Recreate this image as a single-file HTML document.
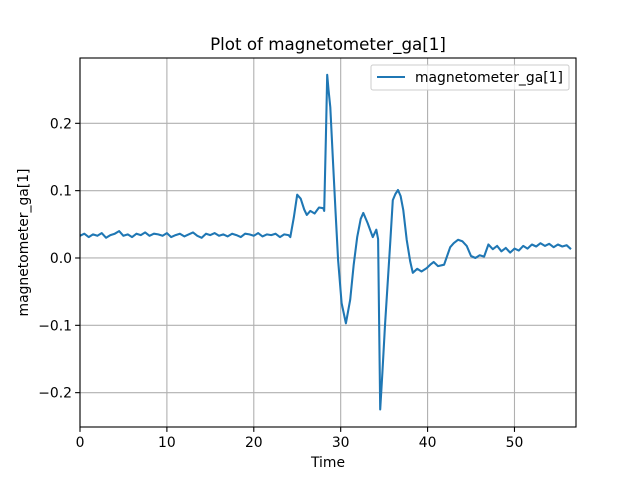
<!DOCTYPE html>
<html><head><meta charset="utf-8"><style>
body{margin:0;background:#fff;}
svg{display:block;font-family:"DejaVu Sans","Liberation Sans",sans-serif;}
</style></head><body>
<svg id="chart" width="640" height="480" viewBox="0 0 640 480">
<rect width="640" height="480" fill="#fff"/>
<g id="grid"></g>
<g id="ticks"></g>
<clipPath id="clip"><rect x="80" y="58" width="496" height="369"/></clipPath>
<path id="line" fill="none" stroke="#1f77b4" stroke-width="2.08" stroke-linejoin="round" clip-path="url(#clip)"/>
<rect x="80" y="58" width="496" height="369" fill="none" stroke="#000" stroke-width="1.1"/>
<text x="328" y="50" text-anchor="middle" font-size="16.7">Plot of magnetometer_ga[1]</text>
<text x="328" y="467" text-anchor="middle" font-size="13.9">Time</text>
<text transform="translate(28,242.5) rotate(-90)" text-anchor="middle" font-size="13.9">magnetometer_ga[1]</text>
<g>
<rect x="371" y="65" width="198" height="25" rx="2" fill="#fff" fill-opacity="0.8" stroke="#ccc" stroke-width="1"/>
<line x1="377" y1="77" x2="405" y2="77" stroke="#1f77b4" stroke-width="2.08"/>
<text x="415" y="82" font-size="13.9">magnetometer_ga[1]</text>
</g>
</svg>
<script>
const times=[0,0.5,1,1.5,2,2.5,3,3.5,4,4.5,5,5.5,6,6.5,7,7.5,8,8.5,9,9.5,10,10.5,11,11.5,12,12.5,13,13.5,14,14.5,15,15.5,16,16.5,17,17.5,18,18.5,19,19.5,20,20.5,21,21.5,22,22.5,23,23.5,24,24.2,24.6,25,25.4,25.8,26.1,26.5,27,27.5,28,28.1,28.3,28.45,28.6,28.8,29.1,29.4,29.7,30.1,30.6,31.1,31.5,31.9,32.3,32.6,33.1,33.7,34.1,34.3,34.55,34.8,35.1,35.7,36,36.3,36.6,36.9,37.2,37.6,38,38.3,38.8,39.3,39.9,40.3,40.7,41.2,41.9,42.3,42.6,43,43.5,44,44.5,45,45.5,46,46.5,47,47.5,48,48.5,49,49.5,50,50.5,51,51.5,52,52.5,53,53.5,54,54.5,55,55.5,56,56.5,57.1];
const values=[0.033,0.036,0.031,0.035,0.033,0.037,0.030,0.034,0.036,0.040,0.033,0.035,0.031,0.036,0.034,0.038,0.033,0.036,0.035,0.033,0.037,0.031,0.034,0.036,0.032,0.035,0.038,0.033,0.030,0.036,0.034,0.037,0.033,0.035,0.032,0.036,0.034,0.031,0.036,0.035,0.033,0.037,0.032,0.035,0.034,0.036,0.031,0.035,0.034,0.031,0.060,0.094,0.088,0.072,0.064,0.070,0.066,0.075,0.074,0.070,0.180,0.272,0.250,0.224,0.146,0.070,-0.003,-0.067,-0.097,-0.062,-0.010,0.031,0.058,0.067,0.052,0.031,0.042,0.028,-0.225,-0.170,-0.100,0.022,0.086,0.095,0.101,0.092,0.071,0.027,-0.005,-0.022,-0.016,-0.020,-0.015,-0.010,-0.006,-0.012,-0.010,0.005,0.016,0.022,0.027,0.025,0.018,0.003,0.000,0.004,0.002,0.020,0.013,0.018,0.010,0.015,0.008,0.014,0.011,0.018,0.014,0.020,0.017,0.022,0.018,0.021,0.016,0.020,0.017,0.019,0.013];
const xTicks=[0,10,20,30,40,50];
const yTicks=[-0.2,-0.1,0.0,0.1,0.2];
const yLabels=["\u22120.2","\u22120.1","0.0","0.1","0.2"];
const X0=80,X1=576,Y0=427,Y1=58,xmin=0,xmax=57.08,ymin=-0.251,ymax=0.297;
const sx=t=>X0+(t-xmin)/(xmax-xmin)*(X1-X0);
const sy=v=>Y0-(v-ymin)/(ymax-ymin)*(Y0-Y1);
const NS="http://www.w3.org/2000/svg";
const grid=document.getElementById('grid'),ticks=document.getElementById('ticks');
function mk(tag,attrs,parent){const e=document.createElementNS(NS,tag);for(const k in attrs)e.setAttribute(k,attrs[k]);parent.appendChild(e);return e;}
xTicks.forEach(t=>{const x=sx(t);
 const g=mk('line',{x1:x,x2:x,y1:Y1,y2:Y0,stroke:'#b0b0b0','stroke-width':1.1},grid);
 
 
 mk('line',{x1:x,x2:x,y1:Y0,y2:Y0+4.9,stroke:'#000','stroke-width':1.1},ticks);
 const tx=mk('text',{x:x,y:Y0+20,'text-anchor':'middle','font-size':13.9},ticks);tx.textContent=t;
 
 
});
yTicks.forEach((v,i)=>{const y=sy(v);
 const g=mk('line',{x1:X0,x2:X1,y1:y,y2:y,stroke:'#b0b0b0','stroke-width':1.1},grid);
 
 
 mk('line',{x1:X0-4.9,x2:X0,y1:y,y2:y,stroke:'#000','stroke-width':1.1},ticks);
 const tx=mk('text',{x:X0-8,y:y+5,'text-anchor':'end','font-size':13.9},ticks);tx.textContent=yLabels[i];
 
 
});
document.getElementById('line').setAttribute('d',times.map((t,i)=>(i?'L':'M')+sx(t).toFixed(1)+' '+sy(values[i]).toFixed(1)).join(''));
</script>
</body></html>
